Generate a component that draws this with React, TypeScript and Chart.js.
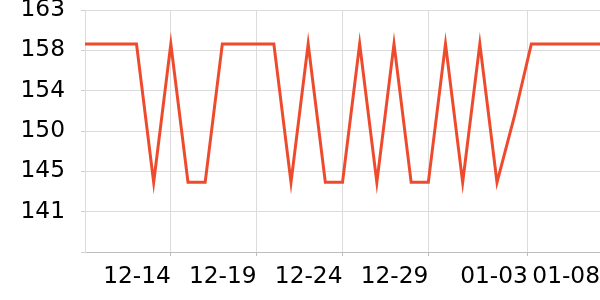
import React, { useEffect, useRef } from 'react';
import { Chart, registerables } from 'chart.js';
Chart.register(...registerables);

const dates = [
  '12-09', '12-10', '12-11', '12-12', '12-13', '12-14', '12-15', '12-16', '12-17', '12-18',
  '12-19', '12-20', '12-21', '12-22', '12-23', '12-24', '12-25', '12-26', '12-27', '12-28',
  '12-29', '12-30', '12-31', '01-01', '01-02', '01-03', '01-04', '01-05', '01-06', '01-07', '01-08',
];
const prices = [
  159.5, 159.5, 159.5, 159.5, 144.4, 159.5, 144.4, 144.4, 159.5, 159.5,
  159.5, 159.5, 144.4, 159.5, 144.4, 144.4, 159.5, 144.4, 159.5, 144.4,
  144.4, 159.5, 144.4, 159.5, 144.4, 151.5, 159.5, 159.5, 159.5, 159.5, 159.5,
];
const xTickPositions = [5, 10, 15, 20, 25.8, 30];
const xTickLabels = ['12-14', '12-19', '12-24', '12-29', '01-03', '01-08'];
const yTickValues = [136.8, 141.2, 145.6, 150.0, 154.4, 158.8, 163.2];
const yTickLabels = ['', '141', '145', '150', '154', '158', '163'];

export default function App() {
  const ref = useRef<HTMLCanvasElement | null>(null);
  useEffect(() => {
    document.body.style.margin = '0';
    const canvas = ref.current;
    if (!canvas) return;
    const font = { family: '"DejaVu Sans"', size: 23.3 };
    const chart = new Chart(canvas, {
      type: 'line',
      data: {
        datasets: [
          {
            data: dates.map((d, i) => ({ x: i, y: prices[i] })),
            borderColor: '#ee4b2e',
            borderWidth: 3,
            pointRadius: 0,
            tension: 0,
            fill: false,
            spanGaps: true,
          },
        ],
      },
      options: {
        animation: false,
        responsive: false,
        maintainAspectRatio: false,
        layout: { padding: { top: 10, left: 0, right: 0, bottom: 0 } },
        plugins: { legend: { display: false }, tooltip: { enabled: false } },
        scales: {
          x: {
            type: 'linear',
            min: 0,
            max: dates.length - 1,
            afterBuildTicks: (scale: any) => {
              scale.ticks = xTickPositions.map((v) => ({ value: v }));
            },
            afterFit: (scale: any) => {
              scale.paddingLeft = 0;
              scale.paddingRight = 0;
              scale.height = 48;
            },
            ticks: {
              autoSkip: false,
              maxRotation: 0,
              align: 'end',
              padding: 7,
              color: '#000',
              font,
              callback: (_v: any, i: number) => xTickLabels[i],
            },
            grid: {
              color: (ctx: any) =>
                ctx.index === xTickPositions.length - 1 ? 'rgba(0,0,0,0)' : '#dcdcdc',
              tickLength: 4,
              tickColor: (ctx: any) =>
                ctx.index === xTickPositions.length - 1 ? 'rgba(0,0,0,0)' : '#bdbdbd',
            },
            border: { color: '#bdbdbd', width: 1 },
          },
          y: {
            type: 'linear',
            min: yTickValues[0],
            max: yTickValues[yTickValues.length - 1],
            afterBuildTicks: (scale: any) => {
              scale.ticks = yTickValues.map((v) => ({ value: v }));
            },
            afterFit: (scale: any) => {
              scale.paddingTop = 0;
              scale.paddingBottom = 0;
              scale.width = 85;
            },
            ticks: {
              autoSkip: false,
              padding: 16,
              color: '#000',
              font,
              callback: (_v: any, i: number) => yTickLabels[i],
            },
            grid: { color: '#dcdcdc', tickLength: 4, tickColor: '#cfcfcf' },
            border: { color: '#dcdcdc', width: 1 },
          },
        },
      },
    } as any);
    return () => chart.destroy();
  }, []);
  return <canvas ref={ref} width={600} height={300} style={{ display: 'block', width: 600, height: 300 }} />;
}
